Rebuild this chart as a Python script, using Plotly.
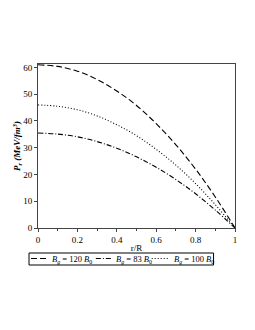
import plotly.graph_objects as go

r = [0, 0.1, 0.2, 0.3, 0.4, 0.5, 0.6, 0.7, 0.8, 0.9, 1.0]
p_120 = [61.0, 60.4, 58.6, 55.5, 51.2, 45.8, 39.0, 31.1, 22.0, 11.6, 0.0]
p_83 = [35.5, 35.1, 34.1, 32.3, 29.8, 26.6, 22.7, 18.1, 12.8, 6.7, 0.0]
p_100 = [46.0, 45.5, 44.2, 41.9, 38.6, 34.5, 29.4, 23.5, 16.6, 8.7, 0.0]

names = [
    "<i>B</i><sub><i>g</i></sub> = 120 <i>B</i><sub>0</sub>",
    "<i>B</i><sub><i>g</i></sub> = 83 <i>B</i><sub>0</sub>",
    "<i>B</i><sub><i>g</i></sub> = 100 <i>B</i><sub>0</sub>",
]
dashes = ["6px,3px", "5px,2px,1px,2px", "1px,2px"]
series = [p_120, p_83, p_100]

W, H = 255, 330
OFF = 8  # page body margin
L, R, T, B = 30, 27.5, 56, 110
PW, PH = W - L - R, H - T - B


def px(x):
    return (x - OFF - L) / PW


def py(y):
    return (H - B - (y - OFF)) / PH


fig = go.Figure()
for ys, nm, ds in zip(series, names, dashes):
    fig.add_trace(go.Scatter(x=r, y=ys, mode="lines", name=nm, showlegend=False,
                             line=dict(color="black", width=1.1, dash=ds, shape="spline")))

font = "Liberation Serif, Times New Roman, serif"

# manual legend box (positions in page pixels)
shapes = [dict(type="rect", xref="paper", yref="paper",
               x0=px(29), x1=px(214), y0=py(253), y1=py(265),
               line=dict(color="black", width=1), fillcolor="white")]
sample_x = [(31, 48), (96, 112), (152, 169)]
text_x = [50, 114, 172]
annotations = []
for (a, b), tx, nm, ds in zip(sample_x, text_x, names, dashes):
    shapes.append(dict(type="line", xref="paper", yref="paper",
                       x0=px(a), x1=px(b), y0=py(258.5), y1=py(258.5),
                       line=dict(color="black", width=1.1, dash=ds)))
    annotations.append(dict(text=nm, xref="paper", yref="paper", x=px(tx), y=py(259),
                            xanchor="left", yanchor="middle", showarrow=False,
                            font=dict(family=font, size=8.5, color="black")))

fig.update_layout(
    width=W, height=H,
    margin=dict(l=L, r=R, t=T, b=B),
    paper_bgcolor="white", plot_bgcolor="white",
    font=dict(family=font, size=9, color="black"),
    showlegend=False,
    shapes=shapes,
    annotations=annotations,
    xaxis=dict(range=[0, 1], tickvals=[0, 0.2, 0.4, 0.6, 0.8, 1.0],
               ticktext=["0", "0.2", "0.4", "0.6", "0.8", "1"],
               ticks="outside", ticklen=3, tickcolor="#444",
               minor=dict(dtick=0.1, ticks="outside", ticklen=2, tickcolor="#444"),
               showline=True, linecolor="#444", linewidth=1, mirror=True,
               showgrid=False, zeroline=False, automargin=False,
               title=dict(text="r/R", font=dict(size=9), standoff=0)),
    yaxis=dict(range=[0, 61.3], dtick=10, ticks="outside", ticklen=3, tickcolor="#444",
               showline=True, linecolor="#444", linewidth=1, mirror=True,
               showgrid=False, zeroline=False, automargin=False,
               title=dict(text="<b><i>P</i><sub><i>r</i></sub> <i>(MeV/fm<sup>3</sup>)</i></b>",
                          font=dict(size=9), standoff=0)),
)

fig.write_html("out.html")
